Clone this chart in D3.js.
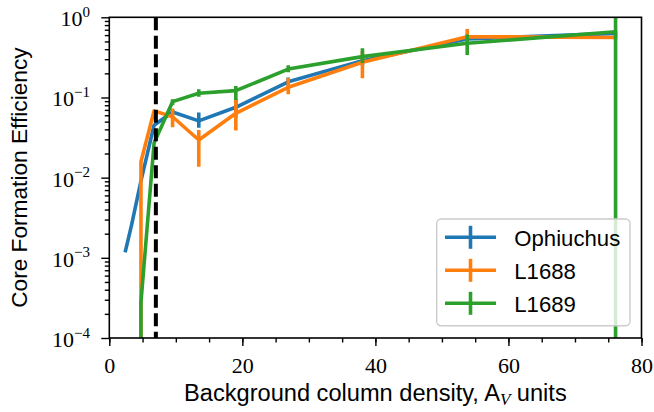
<!DOCTYPE html>
<html><head><meta charset="utf-8">
<script src="https://cdn.jsdelivr.net/npm/d3@7"></script>
<style>body{margin:0;background:#fff} svg{display:block}</style>
</head><body>
<svg id="chart" width="654" height="412"></svg>
<script>
// ---- data ----
const avBins    = [2.38, 3.36, 4.76, 6.73, 9.51, 13.45, 19.02, 26.9, 38.05, 53.8, 76.1];
const ophiuchus = [1.17e-3, 2.6e-3, 9.1e-3, 0.045, 0.066, 0.051, 0.0755, 0.157, 0.288, 0.537, 0.63];
const ophLo     = [null, null, null, null, 0.062, 0.042, 0.056, 0.14, 0.25, 0.50, 0.58];
const ophHi     = [null, null, null, null, 0.070, 0.065, 0.095, 0.178, 0.33, 0.60, 0.68];
const l1688     = [0, 0, 0.0158, 0.068, 0.0575, 0.0295, 0.0635, 0.134, 0.275, 0.573, 0.56];
const l1688Lo   = [null, null, null, null, 0.0424, 0.0137, 0.0386, 0.1096, 0.174, 0.465, 0.53];
const l1688Hi   = [null, null, null, null, 0.073, 0.0393, 0.093, 0.175, 0.38, 0.715, 0.59];
const l1689     = [0, 0, 2.8e-4, 0.027, 0.0887, 0.113, 0.1216, 0.226, 0.323, 0.474, 0.66];
const l1689Lo   = [null, null, null, null, 0.0806, 0.102, 0.093, 0.206, 0.269, 0.338, 0];
const l1689Hi   = [null, null, null, null, 0.095, 0.127, 0.139, 0.252, 0.41, 0.61, 1.5];
const seriesNames = ["Ophiuchus", "L1688", "L1689"];
const seriesColors = ["#1f77b4", "#ff7f0e", "#2ca02c"];
const thresholdAv = 7;
const xTicks = [0, 20, 40, 60, 80];
const xMinorTicks = d3.range(0, 81, 5);
const yTicks = [1e-4, 1e-3, 1e-2, 1e-1, 1];
const yTickExps = ["\u22124", "\u22123", "\u22122", "\u22121", "0"];
const xLabel = "Background column density, A";
const xLabelSub = "V";
const xLabelTail = " units";
const yLabel = "Core Formation Efficiency";

// ---- layout ----
const m = {left: 109.3, right: 641.5, top: 17.3, bottom: 338};
const svg = d3.select("#chart");
const x = d3.scaleLinear().domain([0, 80]).range([m.left, m.right]);
const y = d3.scaleLog().domain([1e-4, 1]).range([m.bottom, m.top]);
const yc = v => v > 0 ? y(v) : m.bottom + 1e5;   // clip non-positive values far below

svg.append("defs").append("clipPath").attr("id", "plotclip")
  .append("rect").attr("x", m.left).attr("y", m.top)
  .attr("width", m.right - m.left).attr("height", m.bottom - m.top);

const plot = svg.append("g").attr("clip-path", "url(#plotclip)");

const series = [
  {name: seriesNames[0], v: ophiuchus, lo: ophLo, hi: ophHi, c: seriesColors[0]},
  {name: seriesNames[1], v: l1688, lo: l1688Lo, hi: l1688Hi, c: seriesColors[1]},
  {name: seriesNames[2], v: l1689, lo: l1689Lo, hi: l1689Hi, c: seriesColors[2]},
];

const line = d3.line().x((d, i) => x(avBins[i])).y(d => yc(d));

series.forEach(s => {
  const g = plot.append("g");
  const bars = avBins.map((b, i) => ({b, lo: s.lo[i], hi: s.hi[i]})).filter(d => d.lo !== null);
  g.selectAll("line.err").data(bars).join("line")
    .attr("x1", d => x(d.b)).attr("x2", d => x(d.b))
    .attr("y1", d => yc(d.lo)).attr("y2", d => yc(d.hi))
    .attr("stroke", s.c).attr("stroke-width", 3.6);
  g.append("path").attr("d", line(s.v)).attr("fill", "none")
    .attr("stroke", s.c).attr("stroke-width", 3.6)
    .attr("stroke-linejoin", "round").attr("stroke-linecap", "butt");
});

plot.append("line")
  .attr("x1", x(thresholdAv)).attr("x2", x(thresholdAv))
  .attr("y1", m.top).attr("y2", m.bottom)
  .attr("stroke", "#000").attr("stroke-width", 4)
  .attr("stroke-dasharray", "13,5.5");

// ---- axes ----
const serif = "'Liberation Serif', 'DejaVu Serif', serif";
const sans = "'Liberation Sans', Arial, sans-serif";

const xMinor = svg.append("g").attr("transform", `translate(0,${m.bottom})`)
  .call(d3.axisBottom(x).tickValues(xMinorTicks).tickSize(4.5).tickSizeOuter(0).tickFormat(""));
const xAxis = svg.append("g").attr("transform", `translate(0,${m.bottom})`)
  .call(d3.axisBottom(x).tickValues(xTicks).tickSize(8).tickSizeOuter(0).tickPadding(11)
    .tickFormat(d3.format("d")));
xAxis.selectAll("text").attr("font-family", serif).attr("font-size", 22).attr("fill", "#000");

const yMinorVals = [];
[-4, -3, -2, -1].forEach(k => { for (let j = 2; j <= 9; j++) yMinorVals.push(j * Math.pow(10, k)); });
svg.append("g").attr("transform", `translate(${m.left},0)`)
  .call(d3.axisLeft(y).tickValues(yMinorVals).tickSize(4.5).tickSizeOuter(0).tickFormat(""));
const yAxis = svg.append("g").attr("transform", `translate(${m.left},0)`)
  .call(d3.axisLeft(y).tickValues(yTicks).tickSize(8).tickSizeOuter(0).tickFormat(""));

svg.selectAll(".domain").remove();
svg.selectAll(".tick line").attr("stroke", "#000").attr("stroke-width", 1.4);

const ylab = svg.append("g");
yTicks.forEach((t, i) => {
  const tx = ylab.append("text").attr("x", 90).attr("y", y(t) + 9)
    .attr("text-anchor", "end").attr("font-family", serif).attr("font-size", 22).attr("fill", "#000");
  tx.append("tspan").text("10");
  tx.append("tspan").attr("dy", -9.5).attr("font-size", 15).text(yTickExps[i]);
});

// spines
svg.append("rect").attr("x", m.left).attr("y", m.top)
  .attr("width", m.right - m.left).attr("height", m.bottom - m.top)
  .attr("fill", "none").attr("stroke", "#000").attr("stroke-width", 1.6);

function fit(sel, target) {
  const w = sel.node().getComputedTextLength();
  const fs = parseFloat(sel.attr("font-size"));
  sel.attr("font-size", fs * target / w);
}

const xl = svg.append("text").attr("x", (m.left + m.right) / 2).attr("y", 401)
  .attr("text-anchor", "middle").attr("font-family", sans).attr("font-size", 20).attr("fill", "#000");
xl.append("tspan").text(xLabel);
xl.append("tspan").attr("font-family", serif).attr("font-style", "italic")
  .attr("font-size", "0.72em").attr("dy", 4).text(xLabelSub);
xl.append("tspan").attr("dy", -4).text(xLabelTail);
fit(xl, 383);

const yl = svg.append("text")
  .attr("transform", `translate(26.5,${(m.top + m.bottom) / 2}) rotate(-90)`)
  .attr("text-anchor", "middle").attr("font-family", sans).attr("font-size", 20).attr("fill", "#000")
  .text(yLabel);
fit(yl, 260.6);

// ---- legend ----
const lg = svg.append("g");
lg.append("rect").attr("x", 436.7).attr("y", 219).attr("width", 193.3).attr("height", 106.7)
  .attr("rx", 4.5).attr("fill", "#fff").attr("fill-opacity", 0.8)
  .attr("stroke", "#cccccc").attr("stroke-width", 1.4);
let legendFont = 20;
series.forEach((s, i) => {
  const cy = 237.3 + i * 33;
  lg.append("line").attr("x1", 445).attr("x2", 496).attr("y1", cy).attr("y2", cy)
    .attr("stroke", s.c).attr("stroke-width", 3.6);
  lg.append("line").attr("x1", 470.5).attr("x2", 470.5).attr("y1", cy - 11.5).attr("y2", cy + 11.5)
    .attr("stroke", s.c).attr("stroke-width", 3.6);
  const t = lg.append("text").attr("x", 514.3).attr("y", cy + 8.4)
    .attr("font-family", sans).attr("font-size", legendFont).attr("fill", "#000").text(s.name);
  if (i === 0) { fit(t, 106); legendFont = parseFloat(t.attr("font-size")); }
});
</script>
</body></html>
